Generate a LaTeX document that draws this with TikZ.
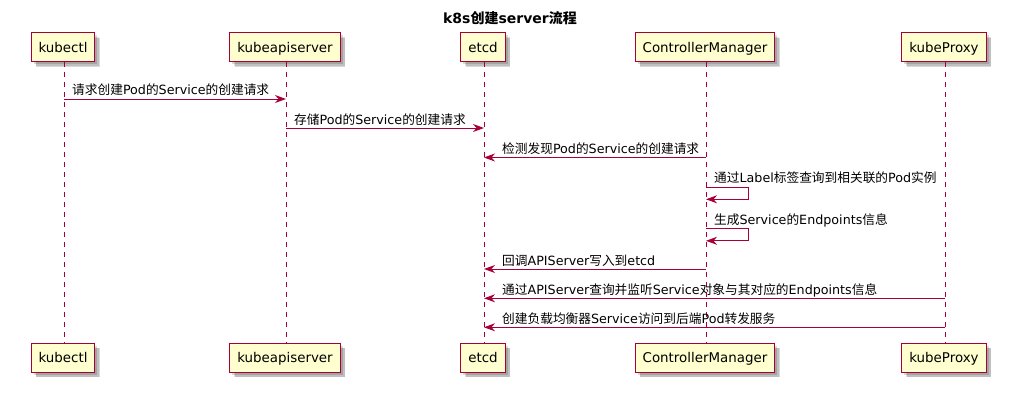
\documentclass[tikz,border=0pt]{standalone}
\usepackage{fontspec}
\setmainfont{DejaVu Sans}
\newfontfamily\cjkfont{Noto Sans CJK SC}
\newfontfamily\latinfont{DejaVu Sans}
\usetikzlibrary{arrows.meta,shadows}
\XeTeXinterchartokenstate=1
\newXeTeXintercharclass\CJKcls
\count255="4E00
\loop \XeTeXcharclass\count255=\CJKcls \advance\count255 by 1 \ifnum\count255<"A000 \repeat
\XeTeXinterchartoks 0 \CJKcls={\cjkfont}
\XeTeXinterchartoks 4095 \CJKcls={\cjkfont}
\XeTeXinterchartoks \CJKcls 0={\latinfont}
\XeTeXinterchartoks \CJKcls 4095={\latinfont}
\definecolor{umlred}{HTML}{A80036}
\definecolor{umlfill}{HTML}{FEFECE}
\begin{document}
\begin{tikzpicture}[x=1pt,y=-1pt,
  part/.style={draw=umlred, fill=umlfill, line width=1pt, minimum height=29pt,
    inner xsep=7.5pt, inner ysep=0pt, text height=13pt, text depth=2.5pt,
    font=\fontsize{13.4}{16}\selectfont,
    double copy shadow={shadow xshift=2.5pt, shadow yshift=-2.5pt, opacity=0.15, fill=black, draw=none},
    drop shadow={shadow xshift=4.5pt, shadow yshift=-4.5pt, opacity=0.12, fill=black}},
  life/.style={draw=umlred, line width=1pt, dash pattern=on 5pt off 5pt},
  msg/.style={draw=umlred, line width=1pt, -{Stealth[length=11pt,width=8pt,inset=3.5pt]}},
  lbl/.style={anchor=base west, inner sep=0pt, font=\fontsize{12.7}{15}\selectfont},
  ttl/.style={anchor=base, inner sep=0pt, font=\bfseries\fontsize{14}{17}\selectfont}]
\useasboundingbox (0,0) rectangle (1020,404);
\node[ttl] (title) at (510,24) {k8s创建server流程};
\foreach \n/\x/\t in {kt/64/kubectl, ka/286/kubeapiserver, et/484/etcd, cm/706/ControllerManager, kp/945/kubeProxy} {
  \node[part] (\n) at (\x-1,47.5) {\t};
  \node[part] (\n-b) at (\x-1,357.5) {\t};
}
\foreach \n/\x in {kt/64, ka/286, et/484, cm/706, kp/945} {
  \coordinate (\n-t) at (\x,62);
  \coordinate (\n-e) at (\x,343);
  \draw[life] (\n-t) -- (\n-e);
}
\coordinate (y1) at (0,99);
\coordinate (y2) at (0,128);
\coordinate (y3) at (0,157.5);
\coordinate (y4) at (0,187);
\coordinate (y4b) at (0,199.3);
\coordinate (y5) at (0,228.5);
\coordinate (y5b) at (0,240.8);
\coordinate (y6) at (0,269);
\coordinate (y7) at (0,298.3);
\coordinate (y8) at (0,327.3);
\draw[msg] (kt-t |- y1) -- (ka-t |- y1);
\node[lbl] (l1) at (72,95) {请求创建Pod的Service的创建请求};
\draw[msg] (ka-t |- y2) -- (et-t |- y2);
\node[lbl] (l2) at (294,124) {存储Pod的Service的创建请求};
\draw[msg] (cm-t |- y3) -- (et-t |- y3);
\node[lbl] (l3) at (502,153.5) {检测发现Pod的Service的创建请求};
\draw[msg] (cm-t |- y4) -- ++(42,0) -- ++(0,12.3) -- (cm-t |- y4b);
\node[lbl] (l4) at (714,182.5) {通过Label标签查询到相关联的Pod实例};
\draw[msg] (cm-t |- y5) -- ++(42,0) -- ++(0,12.3) -- (cm-t |- y5b);
\node[lbl] (l5) at (714,224) {生成Service的Endpoints信息};
\draw[msg] (cm-t |- y6) -- (et-t |- y6);
\node[lbl] (l6) at (502,265) {回调APIServer写入到etcd};
\draw[msg] (kp-t |- y7) -- (et-t |- y7);
\node[lbl] (l7) at (502,294.3) {通过APIServer查询并监听Service对象与其对应的Endpoints信息};
\draw[msg] (kp-t |- y8) -- (et-t |- y8);
\node[lbl] (l8) at (502,323.3) {创建负载均衡器Service访问到后端Pod转发服务};
\end{tikzpicture}
\end{document}
